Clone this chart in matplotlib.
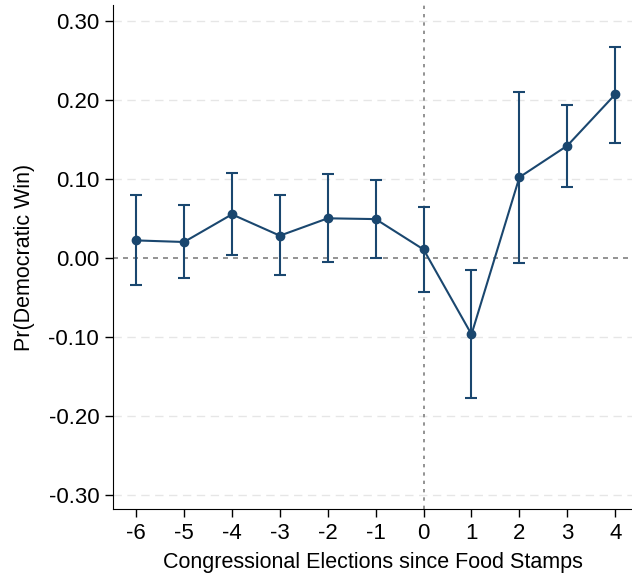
import matplotlib
matplotlib.use("Agg")
import matplotlib.pyplot as plt

elections = [-6, -5, -4, -3, -2, -1, 0, 1, 2, 3, 4]
estimate = [0.022, 0.020, 0.055, 0.028, 0.050, 0.049, 0.0105, -0.097, 0.102, 0.142, 0.207]
ci_low = [-0.035, -0.026, 0.003, -0.022, -0.005, -0.0005, -0.043, -0.178, -0.006, 0.090, 0.146]
ci_high = [0.080, 0.067, 0.107, 0.079, 0.106, 0.098, 0.064, -0.015, 0.210, 0.194, 0.267]
yticks = [-0.3, -0.2, -0.1, 0.0, 0.1, 0.2, 0.3]

plt.rcParams['font.family'] = ['Liberation Sans', 'DejaVu Sans']
color = '#1a476f'

fig = plt.figure(figsize=(6.32, 5.73), dpi=100)
ax = fig.add_axes([0.179, 0.112, 0.821, 0.879])

for y in yticks:
    if y != 0:
        ax.axhline(y, color='#e6e6e6', lw=1.0, ls=(0, (6, 4)), zorder=0)
ax.axhline(0, color='#808080', lw=1.2, ls=(0, (3, 3)), zorder=1)
ax.axvline(0, color='#808080', lw=1.2, ls=(0, (2, 3)), zorder=1)

yerr = [[e - l for e, l in zip(estimate, ci_low)], [h - e for e, h in zip(estimate, ci_high)]]
ax.errorbar(elections, estimate, yerr=yerr, color=color, lw=1.5, elinewidth=1.5,
            capsize=4, capthick=1.5, marker='o', markersize=6, zorder=3)

ax.set_xlim(-6.48, 4.35)
ax.set_ylim(-0.318, 0.32)
ax.set_xticks(elections)
ax.set_xticklabels([str(x) for x in elections])
ax.set_yticks(yticks)
ax.set_yticklabels([f"{y:.2f}" for y in yticks])
ax.tick_params(labelsize=16, length=6, width=1, direction='out', color='black', pad=4)
ax.spines['top'].set_visible(False)
ax.spines['right'].set_visible(False)
ax.set_xlabel('Congressional Elections since Food Stamps', fontsize=15.5, labelpad=6)
ax.set_ylabel('Pr(Democratic Win)', fontsize=15.5, labelpad=10)

fig.savefig('out.png', dpi=100)
